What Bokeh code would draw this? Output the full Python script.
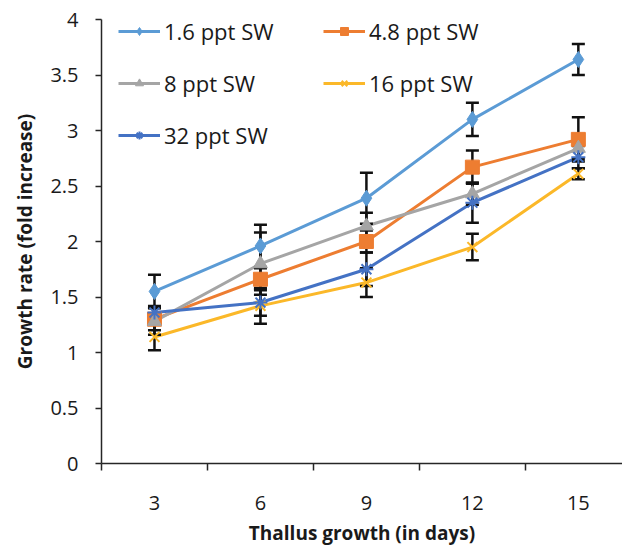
from bokeh.plotting import figure
from bokeh.models import FixedTicker, Legend, LegendItem
from bokeh.embed import file_html
from bokeh.resources import INLINE

days = [3, 6, 9, 12, 15]
tick_labels = ["3", "6", "9", "12", "15"]
y_ticks = [0, 0.5, 1, 1.5, 2, 2.5, 3, 3.5, 4]
y_labels = ["0", "0.5", "1", "1.5", "2", "2.5", "3", "3.5", "4"]

names = ["1.6 ppt SW", "4.8 ppt SW", "8 ppt SW", "16 ppt SW", "32 ppt SW"]
sw_1_6 = [1.55, 1.96, 2.39, 3.10, 3.64]
sw_4_8 = [1.30, 1.66, 2.00, 2.67, 2.92]
sw_8 = [1.28, 1.80, 2.14, 2.43, 2.84]
sw_16 = [1.14, 1.42, 1.63, 1.95, 2.61]
sw_32 = [1.36, 1.45, 1.75, 2.35, 2.76]

err_1_6 = [0.15, 0.19, 0.23, 0.15, 0.14]
err_4_8 = [0.10, 0.10, 0.10, 0.15, 0.20]
err_8 = [0.12, 0.28, 0.12, 0.10, 0.10]
err_16 = [0.12, 0.16, 0.13, 0.12, 0.05]
err_32 = [0.06, 0.12, 0.15, 0.18, 0.10]

series = [sw_1_6, sw_4_8, sw_8, sw_16, sw_32]
errors = [err_1_6, err_4_8, err_8, err_16, err_32]
colors = ["#5B9BD5", "#ED7D31", "#A5A5A5", "#FBB829", "#4472C4"]
markers = ["diamond", "square", "triangle", "x", "asterisk"]
msizes = [16, 14, 14, 14, 14]

FONT = "Open Sans"

p = figure(frame_width=521, frame_height=444, x_range=(1.5, 16.25), y_range=(0, 4),
           output_backend="svg", toolbar_location=None,
           min_border_left=101, min_border_top=19, min_border_bottom=81, min_border_right=0)
p.outline_line_color = None
p.grid.grid_line_color = None
p.background_fill_color = "white"

# x axis
p.xaxis.ticker = FixedTicker(ticks=days, minor_ticks=[1.5, 4.5, 7.5, 10.5, 13.5])
p.xaxis.major_label_overrides = {d: l for d, l in zip(days, tick_labels)}
p.xaxis.major_tick_out = 0
p.xaxis.major_tick_in = 0
p.xaxis.minor_tick_out = 7
p.xaxis.minor_tick_in = 0
p.xaxis.axis_label = "Thallus growth (in days)"

# y axis
p.yaxis.ticker = FixedTicker(ticks=y_ticks, minor_ticks=[])
p.yaxis.major_label_overrides = {t: l for t, l in zip(y_ticks, y_labels)}
p.yaxis.major_tick_out = 6
p.yaxis.major_tick_in = 0
p.yaxis.axis_label = "Growth rate (fold increase)"
p.yaxis.major_label_standoff = 17
p.yaxis.axis_label_standoff = 9
p.xaxis.major_label_standoff = 25
p.xaxis.axis_label_standoff = 7

for ax in (p.xaxis[0], p.yaxis[0]):
    ax.axis_line_color = "#262626"
    ax.axis_line_width = 1.5
    ax.major_tick_line_color = "#262626"
    ax.minor_tick_line_color = "#262626"
    ax.major_tick_line_width = 1.5
    ax.minor_tick_line_width = 1.5
    ax.major_label_text_font = FONT
    ax.major_label_text_font_size = "20px"
    ax.major_label_text_color = "#1a1a1a"
    ax.axis_label_text_font = FONT
    ax.axis_label_text_font_size = "19px"
    ax.axis_label_text_font_style = "bold"
    ax.axis_label_text_color = "#1a1a1a"

line_renderers = []
marker_renderers = []
for vals, col in zip(series, colors):
    line_renderers.append(p.line(days, vals, line_color=col, line_width=3))

# error bars (black)
for vals, err in zip(series, errors):
    lo = [v - e for v, e in zip(vals, err)]
    hi = [v + e for v, e in zip(vals, err)]
    p.segment(x0=days, y0=lo, x1=days, y1=hi, line_color="#111111", line_width=2.5)
    p.scatter(days + days, lo + hi, marker="dash", size=13, line_color="#111111",
              line_width=2.5)

for vals, col, mk, ms in zip(series, colors, markers, msizes):
    lw = 2 if mk in ("x", "asterisk") else 1
    marker_renderers.append(p.scatter(days, vals, marker=mk, size=ms, fill_color=col,
                                      line_color=col, line_width=lw))

def make_legend(idx, loc):
    items = [LegendItem(label=names[i], renderers=[line_renderers[i], marker_renderers[i]])
             for i in idx]
    lg = Legend(items=items, location=loc, padding=0, margin=0,
                border_line_color=None, background_fill_alpha=0,
                glyph_width=42, glyph_height=20, label_height=20, label_standoff=4,
                spacing=22, label_text_font=FONT, label_text_font_size="22px",
                label_text_color="#1a1a1a")
    p.add_layout(lg)

make_legend([0, 2, 4], (17, 313))
make_legend([1, 3], (222, 365))

open("out.html", "w").write(file_html(p, INLINE))
